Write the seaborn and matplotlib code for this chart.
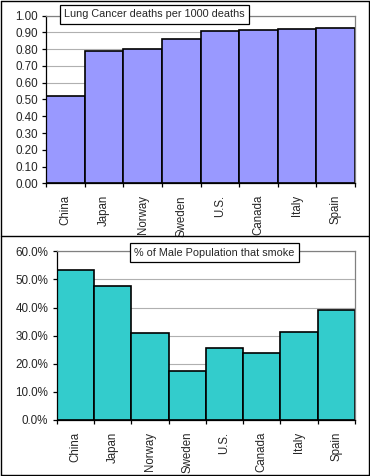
import matplotlib
matplotlib.use('Agg')
import matplotlib.pyplot as plt
import seaborn as sns
import pandas as pd
from matplotlib.ticker import PercentFormatter, FormatStrFormatter
from matplotlib.lines import Line2D

###############################################################################
# Data
###############################################################################
countries = ['China', 'Japan', 'Norway', 'Sweden', 'U.S.', 'Canada', 'Italy', 'Spain']
lung_cancer = [0.519, 0.787, 0.799, 0.859, 0.907, 0.913, 0.918, 0.924]
male_smokers = [53.2, 47.6, 30.8, 17.3, 25.5, 23.7, 31.2, 39.0]

df = pd.DataFrame({'country': countries, 'lung': lung_cancer, 'smoke': male_smokers})

###############################################################################
# Settings
###############################################################################
sns.set_style('white')
plt.rcParams['font.family'] = ['Liberation Sans', 'DejaVu Sans']
plt.rcParams['font.size'] = 7.8

W, H = 370, 476
fig = plt.figure(figsize=(W / 100, H / 100), dpi=100)


def px_axes(left, top, right, bottom):
    return fig.add_axes([left / W, 1 - bottom / H, (right - left) / W, (bottom - top) / H])


def style_axes(ax, ymax, step):
    ax.set_xlim(-0.5, len(countries) - 0.5)
    ax.set_ylim(0, ymax)
    ax.set_yticks([i * step for i in range(int(round(ymax / step)) + 1)])
    ax.yaxis.grid(True, color='#b0b0b0', lw=0.8)
    ax.set_axisbelow(True)
    for s in ['top', 'right']:
        ax.spines[s].set_color('#808080')
        ax.spines[s].set_linewidth(0.9)
    for s in ['left', 'bottom']:
        ax.spines[s].set_color('black')
        ax.spines[s].set_linewidth(0.9)
    ax.tick_params(axis='y', which='both', left=True, length=3, width=0.9,
                   color='black', pad=3, labelsize=8.4)
    # category labels, ticks at category boundaries
    ax.set_xticks(range(len(countries)))
    ax.set_xticklabels(countries, rotation=90, fontsize=8.3)
    ax.tick_params(axis='x', which='major', bottom=False, pad=5)
    ax.set_xticks([i - 0.5 for i in range(len(countries) + 1)], minor=True)
    ax.tick_params(axis='x', which='minor', bottom=True, length=3, width=0.9, color='black')
    ax.set_xlabel('')
    ax.set_ylabel('')


###############################################################################
# Top - Lung cancer
###############################################################################
ax1 = px_axes(46.3, 15.7, 355, 183.3)
sns.barplot(data=df, x='country', y='lung', color='#9999FF', saturation=1,
            width=1.0, edgecolor='black', linewidth=1.2, ax=ax1)
style_axes(ax1, 1.0, 0.1)
ax1.yaxis.set_major_formatter(FormatStrFormatter('%.2f'))
ax1.text(0.057, 1.008, 'Lung Cancer deaths per 1000 deaths', transform=ax1.transAxes,
         ha='left', va='center', fontsize=7.8,
         bbox=dict(boxstyle='square,pad=0.4', fc='white', ec='black', lw=0.9))

###############################################################################
# Bottom - Male smokers
###############################################################################
ax2 = px_axes(56.7, 251.3, 355, 420)
sns.barplot(data=df, x='country', y='smoke', color='#33CCCC', saturation=1,
            width=1.0, edgecolor='black', linewidth=1.2, ax=ax2)
style_axes(ax2, 60, 10)
ax2.yaxis.set_major_formatter(PercentFormatter(decimals=1))
ax2.text(0.259, 0.992, '% of Male Population that smoke', transform=ax2.transAxes,
         ha='left', va='center', fontsize=7.8,
         bbox=dict(boxstyle='square,pad=0.4', fc='white', ec='black', lw=0.9))

###############################################################################
# Outer frame and separator
###############################################################################
for (x0, y0, x1, y1) in [(0.5, 0.5, 368.5, 0.5), (0.5, 0.5, 0.5, 474.5),
                         (368.5, 0.5, 368.5, 474.5), (0.5, 474.5, 368.5, 474.5),
                         (0.5, 235.5, 368.5, 235.5)]:
    fig.add_artist(Line2D([x0 / W, x1 / W], [1 - y0 / H, 1 - y1 / H],
                          color='black', lw=1.0, transform=fig.transFigure))

fig.savefig('out.png', dpi=100)
